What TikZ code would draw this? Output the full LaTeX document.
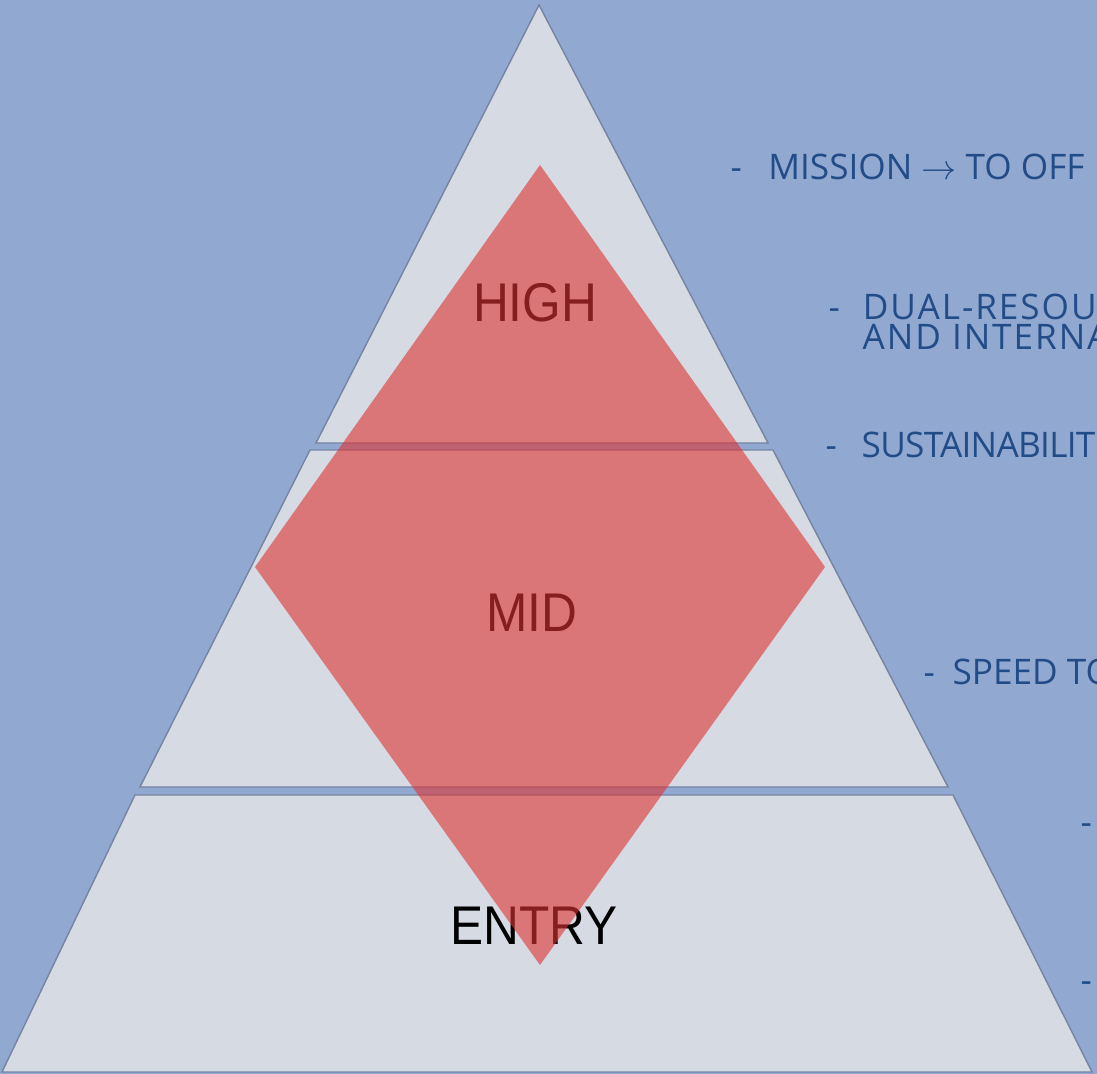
\documentclass[tikz,border=0pt]{standalone}
\usepackage{fontspec}
\setmainfont{Liberation Sans}
\newfontfamily\notefont{Open Sans}
\usetikzlibrary{positioning}

\definecolor{bgblue}{RGB}{145,168,209}
\definecolor{tiergray}{RGB}{214,218,226}
\definecolor{tieredge}{RGB}{118,132,162}
\definecolor{diamondred}{RGB}{222,50,50}
\definecolor{noteblue}{RGB}{33,76,135}

\newcommand{\narrowtext}[1]{\scalebox{0.91}[1]{#1}}
\newcommand{\widetext}{\addfontfeatures{LetterSpace=5.5}}

\begin{document}
\begin{tikzpicture}[x=0.01cm, y=-0.01cm,
    tier/.style={fill=tiergray, draw=tieredge, line width=0.4pt},
    level/.style={font=\fontsize{15.5}{18}\selectfont, anchor=base, inner sep=0pt},
    note/.style={font=\notefont\fontsize{10}{12}\selectfont, text=noteblue, anchor=base west, inner sep=0pt}]
    \fill[bgblue] (0,0) rectangle (1097,1074);
    \useasboundingbox (0,0) rectangle (1097,1074);

    % pyramid tiers
    \draw[tier] (539,5) -- (768,443) -- (316,443) -- cycle;
    \draw[tier] (310,450) -- (773,450) -- (948,787) -- (140,787) -- cycle;
    \draw[tier] (135,795) -- (953,795) -- (1092,1072) -- (2,1072) -- cycle;

    \node[level] (high) at (535,322) {\narrowtext{HIGH}};
    \node[level] (mid) at (532,632) {\narrowtext{MID}};
    \node[level] (entry) at (534,945) {\narrowtext{ENTRY}};

    % diamond over the tiers
    \fill[diamondred, opacity=0.6] (540,165) -- (825,567) -- (540,965) -- (255,567) -- cycle;

    % notes on the right
    \foreach \n/\x/\y/\txt in {
        mission/730/180/{-\hspace{7.5pt}MISSION $\rightarrow$ TO OFF},
        dual/828/320/{-\hspace{6.5pt}\widetext DUAL-RESOU},
        intl/862/350/{\widetext AND INTERNA},
        sust/825/458/{-\hspace{7pt}\addfontfeatures{LetterSpace=-2}SUSTAINABILIT},
        speed/923/685/{-\hspace{5pt}SPEED TO},
        dashA/1080/835/{-},
        dashB/1080/993/{-}}
        \node[note] (\n) at (\x,\y) {\txt};
\end{tikzpicture}
\end{document}
